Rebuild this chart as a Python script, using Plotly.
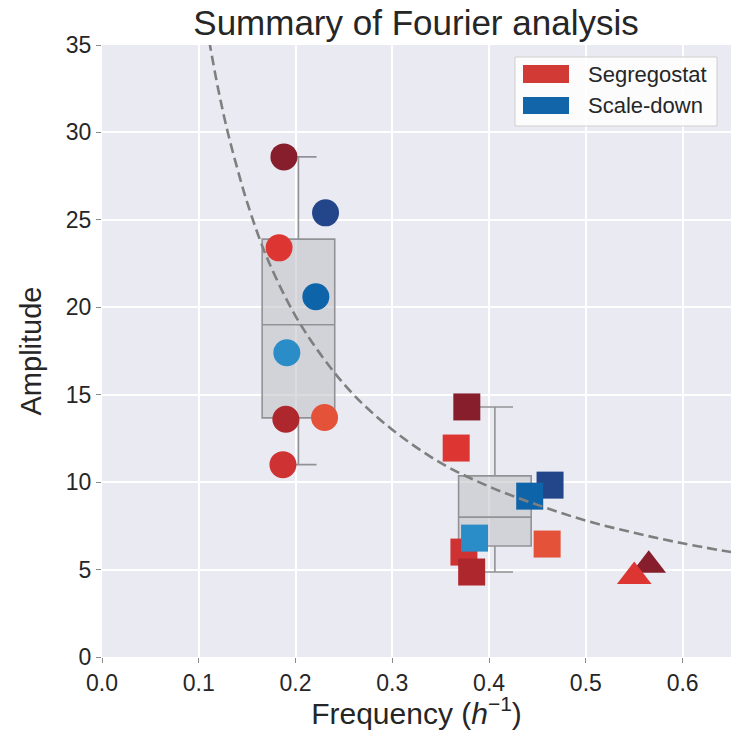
import numpy as np
import plotly.graph_objects as go

# ---------------- data ----------------
# low-frequency component (circles)
circle_freq = [0.188, 0.183, 0.187, 0.190, 0.230, 0.231, 0.221, 0.191]
circle_amp = [28.6, 23.4, 11.0, 13.6, 13.7, 25.4, 20.6, 17.4]
circle_col = ["#861e2b", "#dd3532", "#cf3232", "#ae272c", "#e4523a", "#23458a", "#0e64a9", "#2b8dc7"]

# high-frequency component (squares)
square_freq = [0.377, 0.366, 0.374, 0.382, 0.460, 0.463, 0.442, 0.385]
square_amp = [14.3, 11.95, 6.0, 4.86, 6.46, 9.83, 9.2, 6.8]
square_col = ["#861e2b", "#dd3532", "#cf3232", "#ae272c", "#e4523a", "#23458a", "#0e64a9", "#2b8dc7"]

# third component (triangles)
tri_freq = [0.565, 0.550]
tri_amp = [5.25, 4.6]
tri_col = ["#861e2b", "#dd3532"]

# reference curve (dashed)
curve_freq = [0.108, 0.12, 0.13, 0.14, 0.15, 0.17, 0.20, 0.23, 0.26, 0.30, 0.35, 0.40, 0.45, 0.50, 0.55, 0.60, 0.65]
curve_amp = [36.1, 32.5, 30.0, 27.9, 26.0, 22.9, 19.5, 17.0, 15.0, 13.0, 11.1, 9.75, 8.7, 7.8, 7.1, 6.5, 6.0]

# box positions
box_pos = [0.203, 0.406]
box_width = 0.075

legend_labels = ["Segregostat", "Scale-down"]
legend_colors = ["#d23a36", "#1265a8"]

# ---------------- figure ----------------
def stats(v):
    a = np.array(v, dtype=float)
    return (np.percentile(a, 25), np.median(a), np.percentile(a, 75), a.min(), a.max())

s1 = stats(circle_amp)
s2 = stats(square_amp)

fig = go.Figure()
fig.add_trace(go.Box(
    x=box_pos,
    q1=[s1[0], s2[0]], median=[s1[1], s2[1]], q3=[s1[2], s2[2]],
    lowerfence=[s1[3], s2[3]], upperfence=[s1[4], s2[4]],
    width=box_width, whiskerwidth=0.5, boxpoints=False,
    fillcolor="rgba(185,185,192,0.5)",
    line=dict(color="#929296", width=1.6),
    showlegend=False, hoverinfo="skip",
))

fig.add_trace(go.Scatter(
    x=circle_freq, y=circle_amp, mode="markers",
    marker=dict(symbol="circle", size=27, color=circle_col, line=dict(width=0)),
    showlegend=False,
))
fig.add_trace(go.Scatter(
    x=square_freq, y=square_amp, mode="markers",
    marker=dict(symbol="square", size=27, color=square_col, line=dict(width=0)),
    showlegend=False,
))
fig.add_trace(go.Scatter(
    x=tri_freq, y=tri_amp, mode="markers",
    marker=dict(symbol="triangle-up", size=30, color=tri_col, line=dict(width=0)),
    showlegend=False,
))
fig.add_trace(go.Scatter(
    x=curve_freq, y=curve_amp, mode="lines", line_shape="spline",
    line=dict(color="#7f7f7f", width=2.6, dash="10px,5px"),
    showlegend=False, hoverinfo="skip",
))

FONT = "Liberation Sans, Arial, sans-serif"
TXT = "#262626"

fig.update_layout(
    width=731, height=730,
    margin=dict(l=102, r=0, t=45, b=73),
    paper_bgcolor="white",
    plot_bgcolor="#eaeaf2",
    font=dict(family=FONT, color=TXT, size=23),
    title=dict(text="Summary of Fourier analysis", x=(416) / 731, xanchor="center",
               y=1 - 23 / 730, yanchor="middle", yref="container",
               font=dict(size=35, family=FONT, color=TXT)),
    showlegend=False,
)
fig.update_xaxes(
    range=[0, 0.65], dtick=0.1, tick0=0, tickformat=".1f",
    showgrid=True, gridcolor="white", gridwidth=1.5, zeroline=False,
    ticks="outside", ticklen=5, tickcolor="#8a8a8a", tickwidth=1,
    tickfont=dict(size=23, color=TXT),
    title=dict(text="Frequency (<i>h</i><sup>−1</sup>)", font=dict(size=30, color=TXT), standoff=15),
    automargin=False, showline=False,
)
fig.update_yaxes(
    range=[0, 35], dtick=5, tick0=0,
    showgrid=True, gridcolor="white", gridwidth=1.5, zeroline=False,
    ticks="outside", ticklen=5, tickcolor="#8a8a8a", tickwidth=1,
    tickfont=dict(size=23, color=TXT),
    title=dict(text="Amplitude", font=dict(size=29, color=TXT), standoff=15),
    automargin=False, showline=False,
)

# manual legend (patches), positioned in paper coordinates
W, H = 629.0, 612.0
def px(xp):
    return (xp - 102) / W
def py(yp):
    return (657 - yp) / H

fig.add_shape(type="rect", xref="paper", yref="paper",
              x0=px(515), x1=px(717), y0=py(126), y1=py(57),
              fillcolor="rgba(255,255,255,0.85)", line=dict(color="#d0d0d0", width=1), layer="above")
rows = [(65, 83), (97, 114)]
for (t, b), lab, col in zip(rows, legend_labels, legend_colors):
    fig.add_shape(type="rect", xref="paper", yref="paper",
                  x0=px(523), x1=px(569), y0=py(b), y1=py(t),
                  fillcolor=col, line=dict(width=0), layer="above")
    fig.add_annotation(xref="paper", yref="paper", x=px(586), y=py((t + b) / 2),
                       text=lab, showarrow=False, xanchor="left", yanchor="middle",
                       font=dict(size=22, color=TXT, family=FONT))

fig.write_html("out.html")
